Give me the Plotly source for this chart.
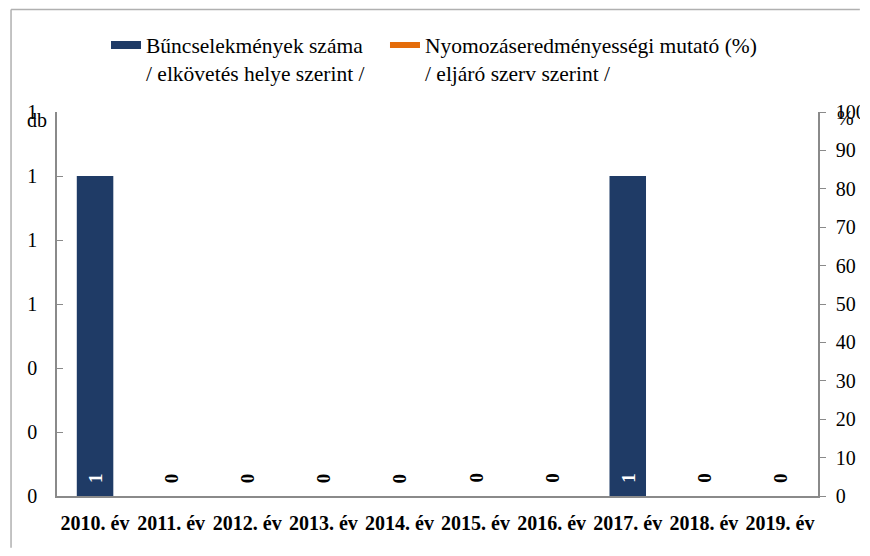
import plotly.graph_objects as go

# ---- data ----
years = ["2010. év", "2011. év", "2012. év", "2013. év", "2014. év",
         "2015. év", "2016. év", "2017. év", "2018. év", "2019. év"]
crimes = [1, 0, 0, 0, 0, 0, 0, 1, 0, 0]
rate = [None, None, None, None, None, None, None, None, None, None]
crime_name = "Bűncselekmények száma<br>/ elkövetés helye szerint /"
rate_name = "Nyomozáseredményességi mutató (%)<br>/ eljáró szerv szerint /"
left_unit = "db"
right_unit = "%"

FONT = "Liberation Serif"
NAVY = "#1f3b66"
ORANGE = "#e46c0a"
AXIS = "#8a8a8a"
FRAME = "#b0b0b0"

fig = go.Figure()

fig.add_trace(go.Bar(
    x=years, y=crimes, name=crime_name, showlegend=False,
    legendgroup="crimes",
    marker=dict(color=NAVY, line=dict(width=0)),
    width=0.48, yaxis="y",
))
# legend proxy for the bar series (flat bar symbol)
fig.add_trace(go.Scatter(
    x=[None], y=[None], mode="lines", name=crime_name, legendgroup="crimes",
    line=dict(color=NAVY, width=8), yaxis="y", legend="legend",
))
fig.add_trace(go.Scatter(
    x=years, y=rate, mode="lines", name=rate_name,
    line=dict(color=ORANGE, width=6), yaxis="y2", legend="legend2",
))

annotations = []
for yr, v in zip(years, crimes):
    annotations.append(dict(
        x=yr, y=0, xref="x", yref="y", text=str(v), showarrow=False,
        textangle=-90, yshift=18,
        font=dict(family=FONT, size=19, color="white" if v > 0 else "black",
                  weight="bold"),
    ))
annotations.append(dict(x=-0.0263, y=0.979, xref="paper", yref="paper",
                        xanchor="center", yanchor="middle",
                        text=left_unit, showarrow=False,
                        font=dict(family=FONT, size=20, color="black")))
annotations.append(dict(x=1.0355, y=0.984, xref="paper", yref="paper",
                        xanchor="center", yanchor="middle",
                        text=right_unit, showarrow=False,
                        font=dict(family=FONT, size=20, color="black")))

legend_style = dict(orientation="h", y=1.228, xanchor="left", yanchor="top",
                    valign="top", font=dict(family=FONT, size=21.5, color="black"),
                    bgcolor="rgba(0,0,0,0)")

fig.update_layout(
    width=852, height=540,
    margin=dict(l=49, r=42, t=104, b=52, autoexpand=False),
    paper_bgcolor="white", plot_bgcolor="white",
    font=dict(family=FONT, size=20, color="black"),
    showlegend=True,
    legend=dict(x=0.0644, **legend_style),
    legend2=dict(x=0.431, **legend_style),
    xaxis=dict(showline=True, linecolor=AXIS, linewidth=1.5, ticks="",
               showgrid=False, zeroline=False, automargin=False,
               tickfont=dict(family=FONT, size=20, color="black", weight="bold"),
               ticklabelstandoff=8),
    yaxis=dict(range=[0, 1.2], dtick=0.2, tickformat=".0f", showline=True,
               linecolor=AXIS, linewidth=1.5, ticks="inside", ticklen=6,
               tickcolor=AXIS, showgrid=False, zeroline=False, automargin=False,
               tickfont=dict(family=FONT, size=20, color="black"),
               ticklabelstandoff=14),
    yaxis2=dict(range=[0, 100], dtick=10, overlaying="y", side="right",
                showline=True, linecolor=AXIS, linewidth=1.5, ticks="outside",
                ticklen=6, tickcolor=AXIS, showgrid=False, zeroline=False,
                automargin=False,
                tickfont=dict(family=FONT, size=20, color="black"),
                ticklabelstandoff=6),
    annotations=annotations,
    shapes=[
        dict(type="line", xref="paper", yref="paper",
             x0=-0.0604, x1=1.055, y0=1.267, y1=1.267,
             line=dict(color=FRAME, width=1.5), layer="below"),
        dict(type="line", xref="paper", yref="paper",
             x0=-0.0604, x1=-0.0604, y0=-0.135, y1=1.267,
             line=dict(color=FRAME, width=1.5), layer="below"),
    ],
)

fig.write_html("out.html")
